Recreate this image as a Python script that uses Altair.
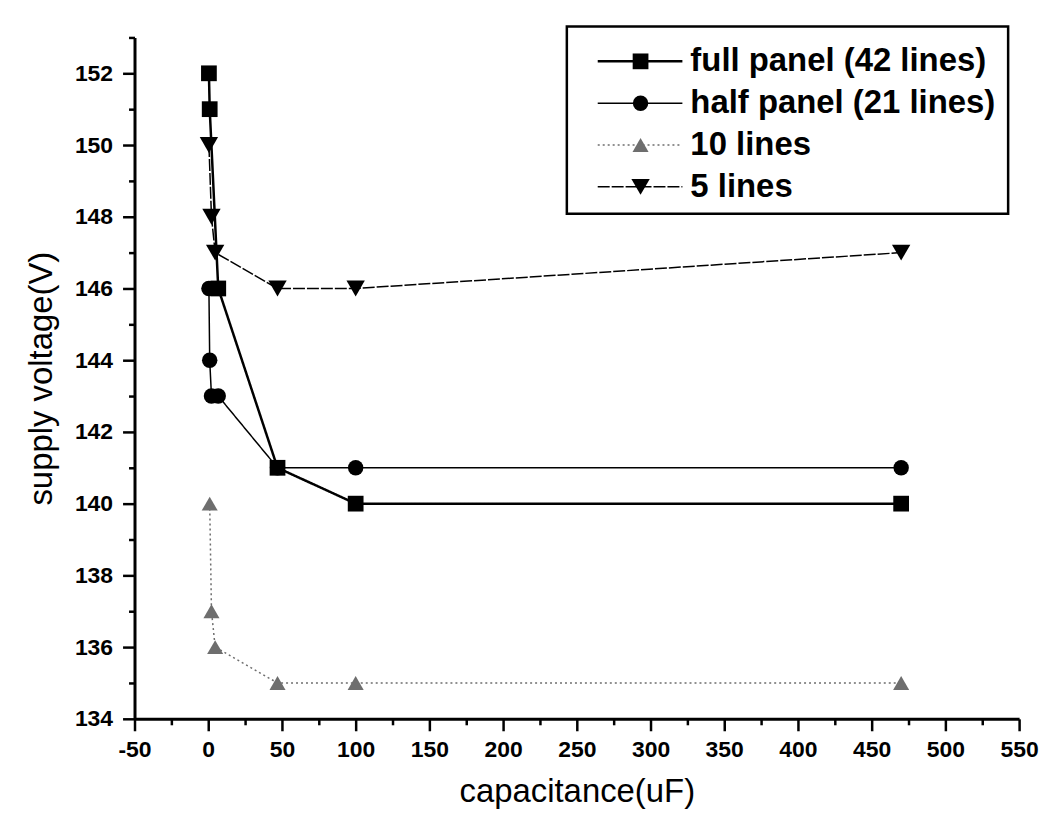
import altair as alt
import pandas as pd

# ---------------- data ----------------
series_names = ["full panel (42 lines)", "half panel (21 lines)", "10 lines", "5 lines"]
full_x = [0.47, 1, 6.8, 47, 100, 470]
full_y = [152, 151, 146, 141, 140, 140]
half_x = [0.47, 1, 2.2, 6.8, 47, 100, 470]
half_y = [146, 144, 143, 143, 141, 141, 141]
ten_x = [1, 2.2, 4.7, 47, 100, 470]
ten_y = [140, 137, 136, 135, 135, 135]
five_x = [0.47, 2.2, 4.7, 47, 100, 470]
five_y = [150, 148, 147, 146, 146, 147]

x_ticks = list(range(-50, 551, 50))
x_minor = list(range(-25, 551, 50))
y_ticks = list(range(134, 153, 2))
y_minor = list(range(135, 154, 2))

xs_all = [full_x, half_x, ten_x, five_x]
ys_all = [full_y, half_y, ten_y, five_y]

rows = []
for name, xs, ys in zip(series_names, xs_all, ys_all):
    for i, (xv, yv) in enumerate(zip(xs, ys)):
        rows.append({"series": name, "c": xv, "v": yv, "i": i})
df = pd.DataFrame(rows)

# ---------------- styles ----------------
FONT = "Liberation Sans"
colors = ["black", "black", "#6e6e6e", "black"]
dashes = [[1, 0], [1, 0], [2, 3], [12, 2]]
widths = [2.5, 1.5, 1.5, 1.5]
shapes = ["square", "circle", "triangle-up", "triangle-down"]
sizes = [250, 240, 260, 340]

W, H = 888, 684
XD = [-50, 550]
YD = [134, 153]

x_main = alt.X(
    "c:Q",
    scale=alt.Scale(domain=XD, nice=False, zero=False),
    axis=alt.Axis(
        values=x_ticks, title="capacitance(uF)", orient="bottom",
        tickSize=12, tickWidth=2.5, domainWidth=3, labelPadding=8,
        labelFontSize=23, labelFontWeight="bold", titleFontSize=33, titlePadding=14,
        labelFlush=False, labelOverlap=False, grid=False,
        labelExpr="datum.value + ''",
    ),
)
y_main = alt.Y(
    "v:Q",
    scale=alt.Scale(domain=YD, nice=False, zero=False),
    axis=alt.Axis(
        values=y_ticks, title="supply voltage(V)", orient="left",
        tickSize=12, tickWidth=2.5, domainWidth=3, labelPadding=10,
        labelFontSize=23, labelFontWeight="bold", titleFontSize=33, titlePadding=16,
        labelOverlap=False, grid=False,
        labelExpr="datum.value + ''",
    ),
)

base = alt.Chart(df)

layers = []
# first layer carries the main axes (invisible points)
layers.append(
    base.mark_point(opacity=0).encode(x=x_main, y=y_main)
)
# minor tick axes
layers.append(
    base.mark_point(opacity=0).encode(
        x=alt.X("c:Q", axis=alt.Axis(values=x_minor, orient="bottom", labels=False,
                                       domain=False, tickSize=6, tickWidth=2.5, title=None, grid=False)),
        y=alt.Y("v:Q", axis=alt.Axis(values=y_minor, orient="left", labels=False,
                                       domain=False, tickSize=6, tickWidth=2.5, title=None, grid=False)),
    )
)

for k, name in enumerate(series_names):
    sub = base.transform_filter(alt.datum.series == name)
    layers.append(
        sub.mark_line(color=colors[k], strokeWidth=widths[k], strokeDash=dashes[k]).encode(
            x=alt.X("c:Q", axis=None), y=alt.Y("v:Q", axis=None), order="i:Q"
        )
    )
for k, name in enumerate(series_names):
    sub = base.transform_filter(alt.datum.series == name)
    layers.append(
        sub.mark_point(shape=shapes[k], filled=True, size=sizes[k], color=colors[k], opacity=1).encode(
            x=alt.X("c:Q", axis=None), y=alt.Y("v:Q", axis=None)
        )
    )

# ---------------- legend (drawn in pixel space) ----------------
one = pd.DataFrame({"k": [0]})
lg = alt.Chart(one)
layers.append(
    lg.mark_rect(fill="white", stroke="black", strokeWidth=2.5).encode(
        x=alt.value(434), x2=alt.value(877), y=alt.value(-11), y2=alt.value(177)
    )
)
for k, name in enumerate(series_names):
    yy = 24 + 42 * k
    layers.append(
        lg.mark_rule(color=colors[k], strokeWidth=widths[k], strokeDash=dashes[k]).encode(
            x=alt.value(465), x2=alt.value(550), y=alt.value(yy)
        )
    )
    layers.append(
        lg.mark_point(shape=shapes[k], filled=True, size=sizes[k], color=colors[k], opacity=1).encode(
            x=alt.value(508), y=alt.value(yy)
        )
    )
    layers.append(
        lg.mark_text(align="left", baseline="middle", fontSize=33, fontWeight="bold",
                     font=FONT, color="black").encode(
            x=alt.value(558), y=alt.value(yy), text=alt.value(name)
        )
    )

chart = (
    alt.layer(*layers)
    .resolve_axis(x="independent", y="independent")
    .properties(
        width=W, height=H,
        autosize=alt.AutoSizeParams(type="none"),
        padding={"left": 127, "top": 28, "right": 25, "bottom": 95},
        background="white",
    )
    .configure_view(stroke=None)
    .configure_axis(
        labelFont=FONT, titleFont=FONT, labelColor="black", titleColor="black",
        domainColor="black", tickColor="black", titleFontWeight="normal",
    )
)

chart.save("out.html", embed_options={"renderer": "svg", "actions": False})
